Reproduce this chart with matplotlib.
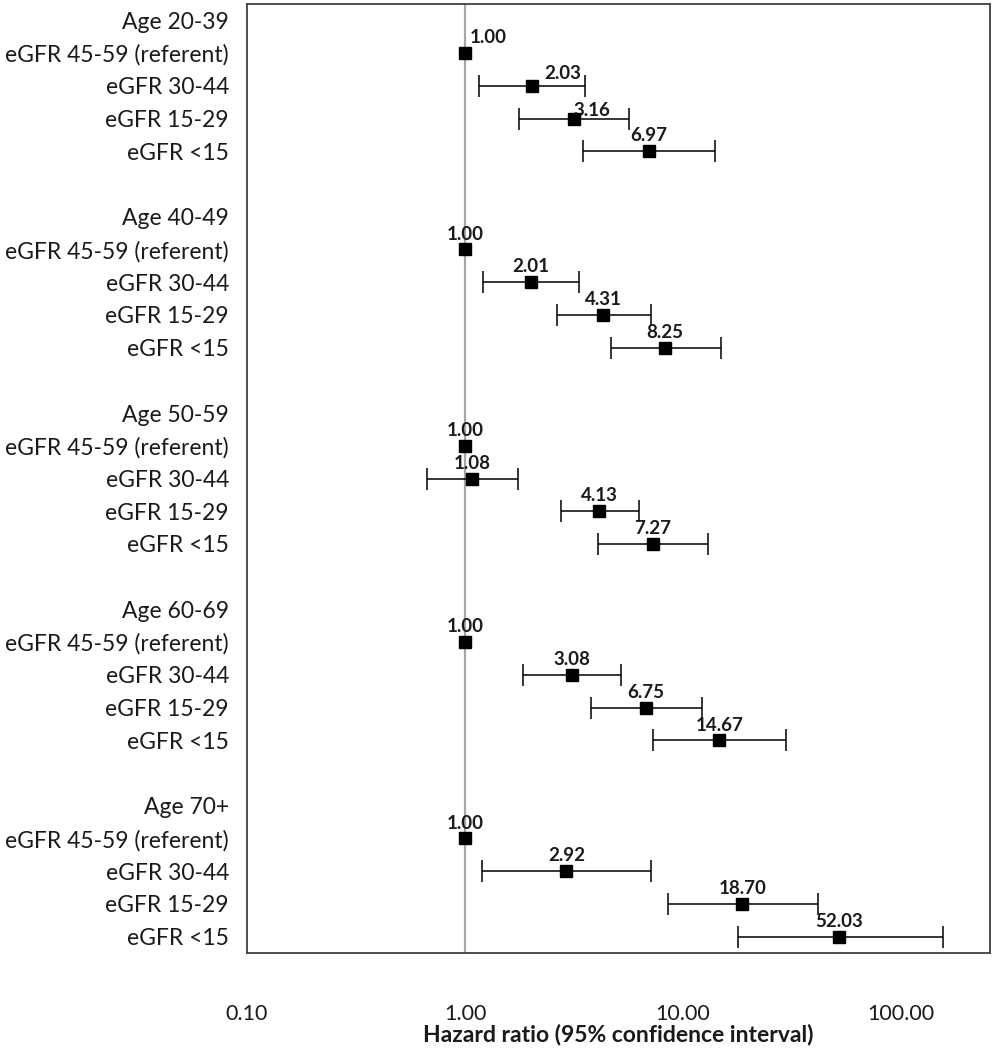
import numpy as np
import matplotlib
matplotlib.use("Agg")
import matplotlib.pyplot as plt

# Data
age_groups = ["Age 20-39", "Age 40-49", "Age 50-59", "Age 60-69", "Age 70+"]
egfr_cats = ["eGFR 45-59 (referent)", "eGFR 30-44", "eGFR 15-29", "eGFR <15"]
hr = [[1.00, 2.03, 3.16, 6.97],
      [1.00, 2.01, 4.31, 8.25],
      [1.00, 1.08, 4.13, 7.27],
      [1.00, 3.08, 6.75, 14.67],
      [1.00, 2.92, 18.70, 52.03]]
ci_low = [[1.00, 1.16, 1.76, 3.48],
          [1.00, 1.21, 2.63, 4.65],
          [1.00, 0.67, 2.76, 4.08],
          [1.00, 1.84, 3.78, 7.32],
          [1.00, 1.20, 8.53, 17.9]]
ci_high = [[1.00, 3.57, 5.67, 13.95],
           [1.00, 3.33, 7.13, 14.94],
           [1.00, 1.75, 6.27, 13.09],
           [1.00, 5.21, 12.2, 29.7],
           [1.00, 7.13, 41.6, 155.7]]
xticks = [0.1, 1, 10, 100]
xtick_labels = ["0.10", "1.00", "10.00", "100.00"]

# label nudges (points) for the first group, where excel shifted them right
label_nudge = {(0, 0): (17, 0), (0, 1): (22, 2), (0, 2): (13, 5)}

plt.rcParams["font.family"] = ["Lato", "DejaVu Sans"]
text_color = "#1a1a1a"

fig = plt.figure(figsize=(9.94, 10.5), dpi=100)
ax = fig.add_axes([247 / 994, 1 - 953 / 1050, 743 / 994, 949 / 1050])

n_rows = len(age_groups) * 6 - 1
ytick_pos = []
ytick_lab = []
for g, age in enumerate(age_groups):
    base = g * 6
    ytick_pos.append(base)
    ytick_lab.append(age)
    for k, cat in enumerate(egfr_cats):
        y = base + k + 1
        ytick_pos.append(y)
        ytick_lab.append(cat)
        v = hr[g][k]
        if k > 0:
            ax.errorbar(v, y, xerr=[[v - ci_low[g][k]], [ci_high[g][k] - v]],
                        fmt="none", ecolor="black", elinewidth=1.1,
                        capsize=8, capthick=1.1, zorder=3)
        ax.plot(v, y, marker="s", markersize=8.5, color="black",
                linestyle="none", zorder=4)
        dx, dy = label_nudge.get((g, k), (0, 0))
        ax.annotate(f"{v:.2f}", (v, y), xytext=(dx, 11 - dy),
                    textcoords="offset points", ha="center", va="center",
                    fontsize=13.5, fontweight="bold", color=text_color)

ax.axvline(1, color="#a6a6a6", linewidth=1.6, zorder=1)

ax.set_xscale("log")
ax.set_xlim(0.1, 256)
ax.set_ylim(n_rows - 0.5, -0.5)
ax.set_xticks(xticks)
ax.set_xticklabels(xtick_labels)
ax.xaxis.set_minor_locator(matplotlib.ticker.NullLocator())
ax.set_yticks(ytick_pos)
ax.set_yticklabels(ytick_lab)
ax.tick_params(axis="x", length=0, pad=37, labelsize=15.5, labelcolor=text_color)
ax.tick_params(axis="y", length=0, pad=13, labelsize=16.5, labelcolor=text_color)
ax.set_xlabel("Hazard ratio (95% confidence interval)", fontsize=16.5,
              fontweight="bold", color=text_color)
ax.xaxis.label.set_va("center")
ax.xaxis.set_label_coords(0.5, -0.0855)

for s in ax.spines.values():
    s.set_color("#404040")
    s.set_linewidth(1.3)

fig.savefig("out.png", dpi=100)
